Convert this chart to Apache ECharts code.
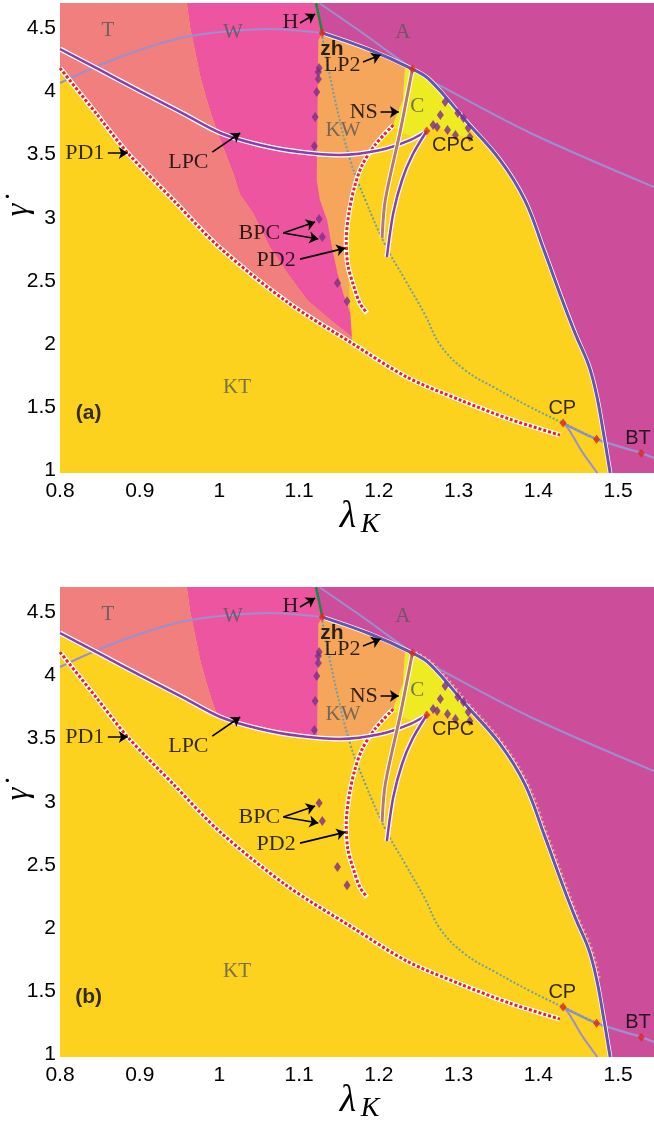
<!DOCTYPE html>
<html><head><meta charset="utf-8">
<script src="https://cdn.jsdelivr.net/npm/echarts@6/dist/echarts.min.js"></script>
<style>html,body{margin:0;padding:0;background:#fff}#c{width:654px;height:1122px}</style>
</head><body><div id="c"></div>
<script>
// ---------- tick labels ----------
const xTicks = [0.8, 0.9, 1, 1.1, 1.2, 1.3, 1.4, 1.5];
const yTicks = [1, 1.5, 2, 2.5, 3, 3.5, 4, 4.5];

// ---------- bifurcation curves (lambda_K, gamma-dot) ----------
const pd1 = [[0.800,4.185],[0.844,3.837],[0.885,3.512],[0.942,3.140],[1.001,2.760],[1.085,2.333],[1.166,2.008],[1.235,1.739],[1.302,1.557],[1.364,1.406],[1.427,1.280]];
const pd2 = [[1.218,3.734],[1.195,3.576],[1.179,3.417],[1.170,3.259],[1.163,3.061],[1.159,2.824],[1.161,2.626],[1.168,2.467],[1.176,2.325],[1.185,2.246]];
const lpc = [[0.800,4.336],[0.850,4.170],[0.900,4.003],[0.951,3.837],[1.001,3.671],[1.051,3.576],[1.101,3.520],[1.151,3.497],[1.202,3.536],[1.239,3.615],[1.260,3.687]];
const lpcBranch = [[1.260,3.687],[1.242,3.497],[1.229,3.299],[1.218,3.037],[1.210,2.689]];
const ns = [[1.242,4.177],[1.227,3.694],[1.208,3.140],[1.204,2.839]];
const hopfA = [[1.129,4.462],[1.189,4.328],[1.242,4.177],[1.264,4.090],[1.308,3.774],[1.352,3.457],[1.383,3.140],[1.407,2.744],[1.430,2.348],[1.447,2.071],[1.463,1.834],[1.473,1.596],[1.481,1.319],[1.490,0.980]];
const hopfFringeB = [[1.246,4.185],[1.268,4.095],[1.312,3.780],[1.356,3.460],[1.387,3.140],[1.411,2.745],[1.434,2.350],[1.451,2.070],[1.467,1.835],[1.477,1.595]];
const arcTop = [[0.800,4.067],[0.850,4.209],[0.900,4.328],[0.951,4.423],[1.001,4.470],[1.063,4.494],[1.129,4.462]];
const thinDiag = [[1.125,4.700],[1.183,4.447],[1.242,4.177],[1.264,4.090],[1.390,3.671],[1.545,3.243]];
const cpLine = [[1.431,1.375],[1.473,1.248],[1.529,1.137],[1.545,1.098]];
const cpDown = [[1.431,1.375],[1.437,1.335],[1.444,1.264],[1.456,1.137],[1.474,0.980]];
const teal = [[1.129,4.431],[1.145,3.932],[1.164,3.457],[1.183,3.140],[1.208,2.784],[1.233,2.507],[1.258,2.230],[1.277,1.992],[1.308,1.794],[1.346,1.652],[1.390,1.501],[1.431,1.375],[1.473,1.248]];
const hLine = [[1.121,4.700],[1.129,4.462]];

// ---------- special points ----------
const bifLeft = [[1.125,4.185],[1.124,4.154],[1.124,4.098],[1.122,3.995],[1.120,3.797],[1.119,3.568]];
const bpc = [[1.125,2.990],[1.129,2.847],[1.148,2.483],[1.160,2.340]];
const cpc = [[1.283,3.916],[1.277,3.813],[1.268,3.734],[1.299,3.829],[1.306,3.789],[1.312,3.710],[1.314,3.639],[1.286,3.694],[1.296,3.655],[1.273,3.718]];
const redPts = [[1.129,4.462],[1.242,4.177],[1.260,3.687],[1.431,1.375],[1.473,1.248],[1.529,1.137]];

// ---------- region boundaries ----------
const twStair = [[0.959,4.700],[0.963,4.510],[0.969,4.328],[0.976,4.114],[0.984,3.932],[0.992,3.774],[1.001,3.615],[1.017,3.354],[1.026,3.180],[1.042,3.037],[1.063,2.768],[1.085,2.562],[1.110,2.348],[1.139,2.190],[1.166,2.056]];
const wRight = [[1.124,4.407],[1.122,3.299],[1.126,3.140],[1.135,2.982],[1.141,2.768],[1.148,2.562],[1.155,2.404],[1.164,2.246],[1.166,2.056]];
const kwTop = [[1.120,4.600],[1.250,4.300],[1.233,4.201],[1.230,3.932],[1.219,3.758]];
const kwLeft = [[1.166,2.056],[1.150,2.300],[1.120,2.900]];
const cBound = [[1.233,4.201],[1.242,4.177],[1.264,4.090],[1.308,3.774],[1.314,3.694],[1.314,3.639],[1.296,3.655],[1.273,3.718],[1.260,3.687],[1.239,3.647],[1.220,3.710],[1.219,3.758],[1.230,3.932]];

// ---------- annotations ----------
const regionText = ['T','W','A','KW','C','KT'];
const regionPos = [[0.860,4.486],[1.017,4.470],[1.230,4.470],[1.155,3.694],[1.248,3.877],[1.022,1.660]];
const bifText = ['H','LP2','NS','PD1','LPC','BPC','PD2'];
const bifPos = [[1.089,4.550],[1.154,4.209],[1.181,3.837],[0.831,3.512],[0.961,3.441],[1.050,2.879],[1.071,2.665]];
const ptText = ['zh','CPC','CP','BT'];
const ptPos = [[1.141,4.335],[1.293,3.576],[1.430,1.494],[1.525,1.256]];
const panelText = ['(a)','(b)'];
const panelPos = [0.836,1.454];
const arrows = [[[1.101,4.542],[1.120,4.613]],[[1.180,4.233],[1.202,4.288]],[[1.202,3.837],[1.225,3.837]],[[0.860,3.512],[0.885,3.512]],[[0.991,3.520],[1.026,3.671]],[[1.080,2.879],[1.120,2.966]],[[1.080,2.879],[1.124,2.832]],[[1.101,2.673],[1.158,2.760]]];

// ---------- colours ----------
const GOLD='#FCD21E', SALMON='#F07F7D', PINK='#EE55A0', MAGENTA='#CC4E9B', ORANGE='#F6A65A', CYEL='#EFEB22';
const X0=0.8, X1=1.545, Y0=0.98, Y1=4.7;

const chart = echarts.init(document.getElementById('c'));
const tops=[3,587];

function poly(pts, gi, color, z){
  return {type:'custom', xAxisIndex:gi, yAxisIndex:gi, data:[pts[0]], z:z, silent:true, animation:false,
    renderItem:function(params, api){
      return {type:'polygon', shape:{points:pts.map(function(p){return api.coord(p);})}, style:{fill:color}};
    }};
}
function line(data, gi, color, width, type, z, smooth){
  return {type:'line', xAxisIndex:gi, yAxisIndex:gi, data:data, symbol:'none', showSymbol:false,
    smooth: smooth===undefined?0.3:smooth, lineStyle:{color:color, width:width, type:type||'solid', cap:'butt'},
    z:z, silent:true, animation:false};
}
function dots(data, gi, color, size, z){
  return {type:'scatter', xAxisIndex:gi, yAxisIndex:gi, data:data, symbol:'diamond', symbolSize:size,
    itemStyle:{color:color}, z:z, silent:true, animation:false};
}
function texts(names, pos, gi, style, z){
  return {type:'scatter', xAxisIndex:gi, yAxisIndex:gi, symbolSize:1, itemStyle:{color:'rgba(0,0,0,0)'},
    data:names.map(function(t,i){return {name:t, value:pos[i]};}),
    label:Object.assign({show:true, position:'inside', formatter:'{b}'}, style), z:z, silent:true, animation:false};
}

const series=[];
for (let gi=0; gi<2; gi++){
  const pd1Upper = pd1.filter(function(p){return p[0]<=1.166;}).slice().reverse();
  const T = [[X0,Y1]].concat(twStair, pd1Upper);
  const W = [[0.959,Y1],[1.121,Y1],[1.129,4.462]].concat(wRight, twStair.slice().reverse());
  const KW = kwTop.concat(pd2.slice(0,6), kwLeft);
  const A = [[1.121,Y1]].concat(hopfA, [[X1,Y0],[X1,Y1]]);
  series.push(poly(KW, gi, ORANGE, 2));
  series.push(poly(W, gi, PINK, 2));
  series.push(poly(T, gi, SALMON, 2));
  series.push(poly(cBound, gi, CYEL, 2));
  if (gi===1){
    const cover = lpc.concat([[1.260,Y0],[X0,Y0]]);
    series.push(poly(cover, gi, GOLD, 2));
  }
  series.push(poly(A, gi, MAGENTA, 2));
  if (gi===1){
    series.push(line(hopfFringeB, gi, '#F39A78', 2.5, [2,3], 3, 0.4));
  }

  const TH='#9B8FCF';
  series.push(line(arcTop, gi, TH, 2, 'solid', 3));
  series.push(line(thinDiag, gi, TH, 2, 'solid', 3));
  series.push(line(cpLine, gi, TH, 2.5, 'solid', 3));
  series.push(line(cpDown, gi, TH, 2, 'solid', 3));
  series.push(line(teal, gi, '#6F9FA3', 2, [2,2], 3, 0.4));
  series.push(line(pd1, gi, '#ffffff', 5, 'solid', 4));
  series.push(line(pd1, gi, '#E8212B', 3, [3,2], 4));
  series.push(line(pd2, gi, '#ffffff', 5, 'solid', 4));
  series.push(line(pd2, gi, '#E8212B', 3, [3,2], 4));
  series.push(line(lpc, gi, '#ffffff', 5, 'solid', 4));
  series.push(line(lpc, gi, '#8A3FA6', 2.5, 'solid', 4));
  series.push(line(lpcBranch, gi, '#ffffff', 5, 'solid', 4));
  series.push(line(lpcBranch, gi, '#8A3FA6', 2.5, 'solid', 4));
  series.push(line(ns, gi, '#ffffff', 5, 'solid', 4));
  series.push(line(ns, gi, '#B87872', 3, 'solid', 4));
  series.push(line(hopfA, gi, '#ffffff', 4.5, 'solid', 4));
  series.push(line(hopfA, gi, '#6455AE', 3, 'solid', 4, 0.4));
  series.push(line(hLine, gi, '#1B8A3A', 2.5, 'solid', 4, false));

  series.push(dots(bifLeft.concat(bpc, cpc), gi, '#7B2C8C', [7,10], 5));
  series.push(dots(redPts, gi, '#E2231A', [7,9], 6));

  series.push({type:'lines', coordinateSystem:'cartesian2d', xAxisIndex:gi, yAxisIndex:gi,
    data:arrows.map(function(a){return {coords:a};}), symbol:['none','arrow'], symbolSize:9,
    lineStyle:{color:'#000', width:1.6, opacity:1, curveness:0}, z:8, silent:true, animation:false});

  series.push(texts(regionText, regionPos, gi, {fontFamily:'Liberation Serif', fontSize:21, color:'#585858'}, 9));
  series.push(texts(bifText, bifPos, gi, {fontFamily:'Liberation Serif', fontSize:22, color:'#000'}, 9));
  series.push(texts(ptText.slice(0,1), ptPos.slice(0,1), gi, {fontFamily:'Liberation Sans', fontSize:21, fontWeight:'bold', color:'#000'}, 9));
  series.push(texts(ptText.slice(1), ptPos.slice(1), gi, {fontFamily:'Liberation Sans', fontSize:20, color:'#000'}, 9));
  series.push(texts([panelText[gi]], [panelPos], gi, {fontFamily:'Liberation Sans', fontSize:21, fontWeight:'bold', color:'#000'}, 9));
}

const labelStyle = {fontFamily:'Liberation Sans', fontSize:21, color:'#000'};
const option = {
  animation:false,
  backgroundColor:'#ffffff',
  grid: tops.map(function(t){return {left:60, top:t, width:594, height:470, show:true, backgroundColor:GOLD, borderWidth:0};}),
  xAxis: [0,1].map(function(i){return {type:'value', gridIndex:i, min:X0, max:X1, splitNumber:7,
    axisLine:{show:false}, axisTick:{show:false}, splitLine:{show:false},
    axisLabel:Object.assign({customValues:xTicks, margin:8}, labelStyle)};}),
  yAxis: [0,1].map(function(i){return {type:'value', gridIndex:i, min:Y0, max:Y1, splitNumber:8,
    axisLine:{show:false}, axisTick:{show:false}, splitLine:{show:false},
    axisLabel:Object.assign({customValues:yTicks, margin:4}, labelStyle)};}),
  graphic: [].concat.apply([], tops.map(function(t){
    return [
      {type:'text', x:348, y:t+514, style:{text:'\u03BB', font:'italic 38px "Liberation Serif"', fill:'#000', align:'center', verticalAlign:'middle', textAlign:'center', textVerticalAlign:'middle'}},
      {type:'text', x:370, y:t+522, style:{text:'K', font:'italic 28px "Liberation Serif"', fill:'#000', align:'center', verticalAlign:'middle', textAlign:'center', textVerticalAlign:'middle'}},
      {type:'text', x:19, y:t+207, rotation:Math.PI/2, style:{text:'\u03B3\u0307', font:'italic 32px "Liberation Serif"', fill:'#000', align:'center', verticalAlign:'middle', textAlign:'center', textVerticalAlign:'middle'}}
    ];
  })),
  series: series
};
chart.setOption(option);
</script></body></html>
